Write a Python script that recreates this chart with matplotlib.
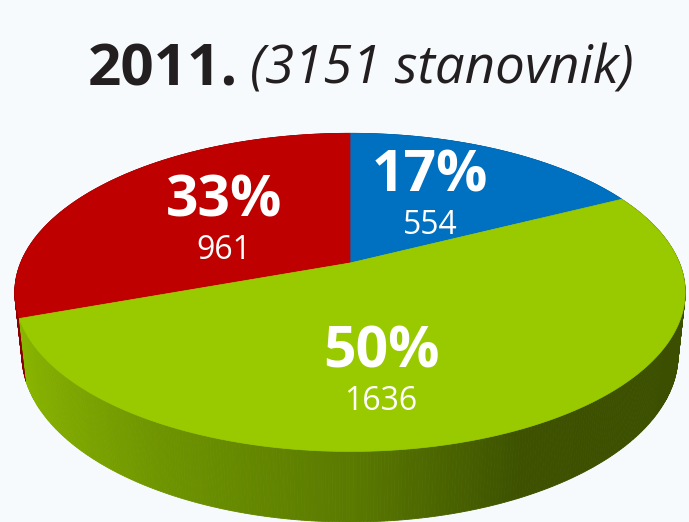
import numpy as np
import matplotlib
matplotlib.use("Agg")
import matplotlib.pyplot as plt
from matplotlib.patches import Polygon
from matplotlib.colors import LinearSegmentedColormap

# data
year = "2011."
total_label = "(3151 stanovnik)"
counts = [554, 961, 1636]          # blue, red, green
pct_labels = ["17%", "33%", "50%"]
top_colors = ["#0070C0", "#BE0000", "#99CA00"]
side_colors = ["#00508A", "#8A0000", None]   # green side uses a gradient

# view / layout
W, H = 689, 522
cx, cy = 350, 263
f, D, elev = 1578.0, 4.79, np.radians(27.8)
depth_h = 0.216
bg = "#F7FAFD"
label_shift = [(0, 4), (2, 10), (-40, 42)]   # nudges in pixels

side_cmap = LinearSegmentedColormap.from_list(
    "side", [(0.0, "#8DB900"), (0.25, "#6F9500"), (0.5, "#5A7A00"),
             (0.72, "#3D5100"), (1.0, "#3C4F00")])


def project(t, r=1.0, h=0.0):
    u = r * np.cos(t)
    v = r * np.sin(t)
    up = v * np.sin(elev) + h * np.cos(elev)
    dep = D + v * np.cos(elev) - h * np.sin(elev)
    return cx + f * u / dep, cy - f * up / dep


fig = plt.figure(figsize=(W / 100, H / 100), dpi=100)
fig.patch.set_facecolor(bg)
ax = fig.add_axes([0, 0, 1, 1])
ax.set_xlim(0, W)
ax.set_ylim(H, 0)
ax.axis("off")

# wedge angles: blue clockwise from 12 o'clock, red counter-clockwise,
# green fills the rest
total = sum(counts)
fr = [c / total * 2 * np.pi for c in counts]
start = np.pi / 2
wedges = [
    (start - fr[0], start),
    (start, start + fr[1]),
    (start + fr[1], start - fr[0] + 2 * np.pi)
]

# side strips, back to front
strips = []
for i, (a0, a1) in enumerate(wedges):
    ts = np.linspace(a0, a1, int(np.degrees(a1 - a0)) * 2 + 2)
    for ta, tb in zip(ts[:-1], ts[1:]):
        tm = (ta + tb) / 2
        strips.append((np.sin(tm), i, ta, tb))
strips.sort(key=lambda s: -s[0])
for _, i, ta, tb in strips:
    x1, y1 = project(ta)
    x2, y2 = project(tb)
    x3, y3 = project(tb, h=-depth_h)
    x4, y4 = project(ta, h=-depth_h)
    if side_colors[i] is None:
        c = side_cmap((np.cos((ta + tb) / 2) + 1) / 2)
    else:
        c = side_colors[i]
    ax.add_patch(Polygon([(x1, y1), (x2, y2), (x3, y3), (x4, y4)],
                         closed=True, facecolor=c, edgecolor=c, lw=0.6))

# top faces
for i, (a0, a1) in enumerate(wedges):
    ts = np.linspace(a0, a1, 300)
    xs, ys = project(ts)
    pts = [(cx, cy)] + list(zip(xs, ys))
    ax.add_patch(Polygon(pts, closed=True, facecolor=top_colors[i],
                         edgecolor=top_colors[i], lw=0.5))

# labels
font = "Open Sans"
for i, (a0, a1) in enumerate(wedges):
    tm = (a0 + a1) / 2
    lx, ly = project(tm, r=0.5)
    lx += label_shift[i][0]
    ly += label_shift[i][1]
    ax.text(lx, ly - 1, pct_labels[i], color="white", fontsize=41,
            fontweight="bold", family=font, ha="center", va="bottom")
    ax.text(lx, ly + 3, str(counts[i]), color="white", fontsize=23,
            family=font, ha="center", va="top")

# title
ax.text(238, 70, year, fontsize=42, fontweight="bold", family=font,
        color="#231F20", ha="right", va="center")
ax.text(250, 70, total_label, fontsize=38, style="italic", family=font,
        color="#231F20", ha="left", va="center")

fig.savefig("out.png", dpi=100, facecolor=bg)
